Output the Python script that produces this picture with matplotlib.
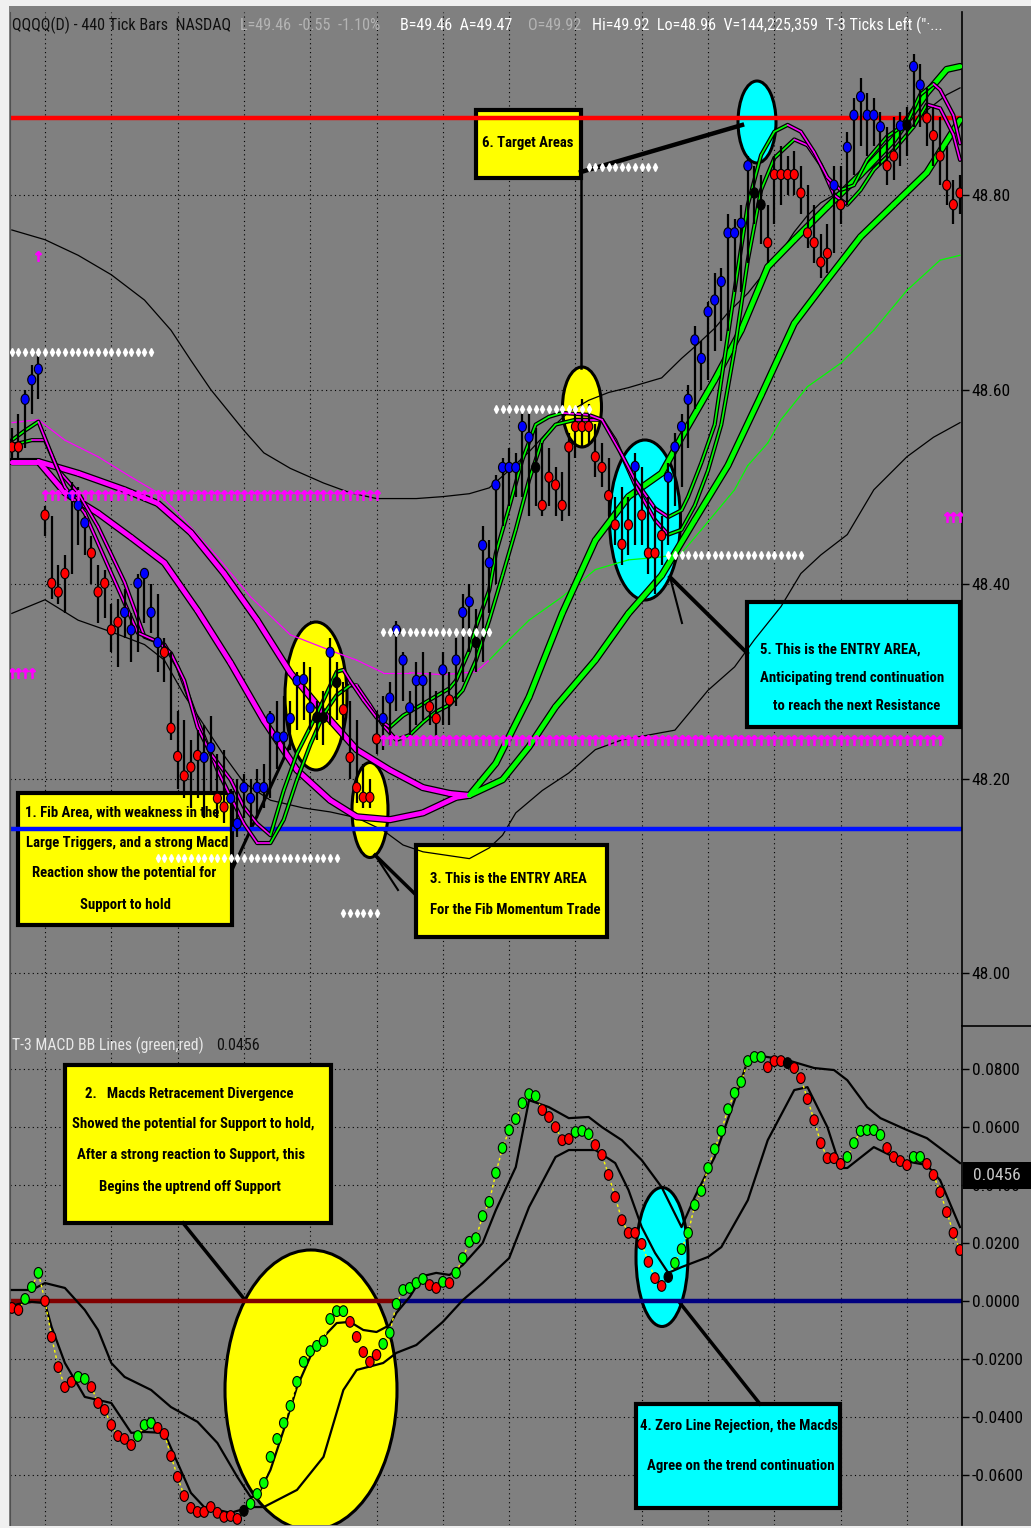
import matplotlib
matplotlib.use("Agg")
import matplotlib.pyplot as plt
import matplotlib.transforms as mtransforms
from matplotlib.patches import Ellipse, Rectangle
from matplotlib.collections import LineCollection
from matplotlib.lines import Line2D
from matplotlib.path import Path
from matplotlib import font_manager
import numpy as np

# narrow font, like the trading platform
have = {f.name for f in font_manager.fontManager.ttflist}
narrow = 'DejaVu Sans'
for nm in ['Liberation Sans Narrow', 'Arial Narrow', 'Roboto Condensed', 'Open Sans Condensed', 'DejaVu Sans Condensed']:
    if nm in have:
        narrow = nm
        break
plt.rcParams['font.family'] = [narrow, 'DejaVu Sans']

# ---------------- price bars (bar 5 .. 148) ----------------
closes = [48.541, 48.541, 48.590, 48.610, 48.621, 48.471, 48.401, 48.392, 48.411, 48.492,
          48.481, 48.463, 48.432, 48.392, 48.401, 48.353, 48.361, 48.371, 48.353, 48.401,
          48.411, 48.371, 48.340, 48.330, 48.252, 48.223, 48.203, 48.212, 48.224, 48.222,
          48.232, 48.180, 48.171, 48.180, 48.154, 48.191, 48.180, 48.191, 48.191, 48.262,
          48.243, 48.243, 48.262, 48.301, 48.302, 48.273, 48.263, 48.263, 48.330, 48.299,
          48.271, 48.222, 48.191, 48.181, 48.181, 48.241, 48.262, 48.283, 48.353, 48.322,
          48.273, 48.301, 48.301, 48.274, 48.262, 48.312, 48.281, 48.322, 48.371, 48.382,
          48.340, 48.440, 48.422, 48.502, 48.520, 48.520, 48.520, 48.562, 48.551, 48.520,
          48.481, 48.510, 48.502, 48.481, 48.541, 48.562, 48.562, 48.562, 48.531, 48.520,
          48.491, 48.461, 48.441, 48.461, 48.521, 48.471, 48.432, 48.432, 48.450, 48.510,
          48.541, 48.562, 48.590, 48.651, 48.632, 48.680, 48.692, 48.711, 48.761, 48.761,
          48.771, 48.830, 48.802, 48.790, 48.751, 48.821, 48.821, 48.821, 48.821, 48.802,
          48.761, 48.751, 48.731, 48.740, 48.810, 48.790, 48.849, 48.882, 48.901, 48.882,
          48.882, 48.870, 48.830, 48.840, 48.871, 48.872, 48.932, 48.913, 48.879, 48.861,
          48.840, 48.810, 48.790, 48.802]
highs = [48.560, 48.575, 48.600, 48.625, 48.635, 48.480, 48.470, 48.420, 48.430, 48.505,
         48.500, 48.470, 48.450, 48.420, 48.415, 48.380, 48.385, 48.395, 48.370, 48.410,
         48.415, 48.400, 48.390, 48.345, 48.330, 48.270, 48.260, 48.240, 48.250, 48.255,
         48.265, 48.225, 48.230, 48.190, 48.200, 48.205, 48.200, 48.210, 48.215, 48.270,
         48.280, 48.285, 48.280, 48.310, 48.320, 48.315, 48.280, 48.290, 48.345, 48.320,
         48.300, 48.280, 48.260, 48.215, 48.200, 48.270, 48.285, 48.300, 48.362, 48.330,
         48.290, 48.320, 48.330, 48.310, 48.290, 48.330, 48.310, 48.345, 48.390, 48.400,
         48.375, 48.460, 48.445, 48.512, 48.530, 48.540, 48.535, 48.575, 48.575, 48.560,
         48.545, 48.540, 48.520, 48.515, 48.555, 48.580, 48.590, 48.585, 48.565, 48.545,
         48.530, 48.490, 48.500, 48.490, 48.535, 48.520, 48.490, 48.480, 48.470, 48.525,
         48.555, 48.575, 48.605, 48.665, 48.650, 48.690, 48.720, 48.725, 48.780, 48.775,
         48.790, 48.840, 48.830, 48.820, 48.790, 48.840, 48.850, 48.840, 48.845, 48.830,
         48.810, 48.790, 48.760, 48.770, 48.830, 48.830, 48.865, 48.900, 48.920, 48.905,
         48.900, 48.885, 48.870, 48.880, 48.885, 48.890, 48.945, 48.935, 48.910, 48.890,
         48.880, 48.850, 48.815, 48.820]
lows = [48.530, 48.530, 48.540, 48.575, 48.590, 48.450, 48.385, 48.380, 48.370, 48.410,
        48.440, 48.430, 48.400, 48.360, 48.365, 48.330, 48.315, 48.345, 48.320, 48.330,
        48.360, 48.350, 48.310, 48.300, 48.240, 48.190, 48.180, 48.170, 48.180, 48.160,
        48.185, 48.160, 48.155, 48.145, 48.140, 48.160, 48.150, 48.160, 48.170, 48.180,
        48.210, 48.220, 48.230, 48.250, 48.260, 48.250, 48.240, 48.235, 48.255, 48.260,
        48.240, 48.200, 48.175, 48.170, 48.170, 48.225, 48.230, 48.235, 48.270, 48.280,
        48.245, 48.255, 48.260, 48.255, 48.240, 48.255, 48.255, 48.275, 48.300, 48.330,
        48.310, 48.320, 48.370, 48.400, 48.460, 48.480, 48.490, 48.490, 48.470, 48.480,
        48.470, 48.480, 48.470, 48.465, 48.470, 48.530, 48.540, 48.545, 48.510, 48.500,
        48.470, 48.440, 48.420, 48.430, 48.440, 48.440, 48.410, 48.390, 48.420, 48.440,
        48.480, 48.500, 48.540, 48.580, 48.600, 48.610, 48.640, 48.650, 48.660, 48.700,
        48.700, 48.730, 48.770, 48.750, 48.730, 48.770, 48.790, 48.800, 48.800, 48.780,
        48.745, 48.730, 48.715, 48.720, 48.740, 48.770, 48.790, 48.820, 48.850, 48.840,
        48.850, 48.830, 48.810, 48.815, 48.830, 48.840, 48.870, 48.870, 48.850, 48.830,
        48.810, 48.790, 48.770, 48.780]
bar_kind = ("rrbbbrrrrb" "bbrrrrrbbb" "bbbrrrrrrb" "brrbbbbbbb" "bbbbbbkkbk"
            "rrrrrrbbbb" "bbbrrbrbbb" "kbbbbbbbbk" "rrrrrrrrrr" "rrrrbrrrrb"
            "bbbbbbbbbb" "bbkkrrrrrr" "rrrrbrbbbb" "bbrrbkbbrr" "rrrr")

# ---------------- overlays on price ----------------
bb_up_x = [5, 10, 15, 20, 25, 29, 32, 35, 40, 43, 47, 52, 56, 60, 66, 70, 74, 77, 80, 83, 86, 89,
           92, 95, 98, 101, 103, 106, 108, 111, 113, 116, 118, 121, 123, 125, 127, 131, 134, 138,
           141, 143, 146, 148]
bb_up = [48.764, 48.754, 48.738, 48.718, 48.692, 48.661, 48.630, 48.600, 48.558, 48.535,
         48.519, 48.504, 48.494, 48.488, 48.488, 48.490, 48.493, 48.499, 48.517, 48.536,
         48.558, 48.577, 48.589, 48.597, 48.602, 48.608, 48.612, 48.632, 48.644, 48.663,
         48.679, 48.699, 48.716, 48.741, 48.762, 48.779, 48.792, 48.808, 48.824, 48.846,
         48.869, 48.887, 48.903, 48.910]
bb_dn_x = [5, 10, 15, 20, 25, 28, 31, 34, 37, 40, 44, 49, 53, 57, 61, 64, 67, 71, 74, 77, 79, 81,
           85, 89, 93, 97, 101, 105, 110, 114, 117, 121, 124, 127, 131, 135, 140, 144, 148]
bb_dn = [48.370, 48.384, 48.363, 48.351, 48.338, 48.322, 48.286, 48.255, 48.224, 48.196,
         48.178, 48.170, 48.166, 48.160, 48.147, 48.132, 48.125, 48.121, 48.118, 48.129,
         48.142, 48.165, 48.188, 48.206, 48.230, 48.240, 48.245, 48.250, 48.291, 48.315,
         48.343, 48.377, 48.411, 48.430, 48.451, 48.497, 48.531, 48.551, 48.566]
mid_x = [5, 9, 13, 18, 23, 27, 31, 36, 41, 47, 53, 57, 61, 65, 70, 75, 77, 80, 83, 88, 93, 98,
         103, 106, 109, 114, 116, 119, 121, 125, 130, 135, 140, 145, 148]
mid = [48.566, 48.569, 48.548, 48.531, 48.510, 48.494, 48.466, 48.428, 48.387, 48.348,
       48.332, 48.322, 48.309, 48.309, 48.307, 48.310, 48.322, 48.343, 48.363, 48.387,
       48.415, 48.425, 48.428, 48.432, 48.456, 48.497, 48.522, 48.545, 48.569, 48.603,
       48.627, 48.661, 48.702, 48.733, 48.738]
slow_a_x = [5, 9, 15, 22, 27, 32, 37, 42, 47, 52, 57, 62, 67, 71, 74, 78, 83, 88, 93, 98, 103,
            106, 111, 115, 119, 123, 128, 133, 138, 143, 146, 148]
slow_a = [48.526, 48.526, 48.514, 48.497, 48.483, 48.453, 48.411, 48.363, 48.309, 48.268,
          48.230, 48.209, 48.191, 48.185, 48.183, 48.216, 48.284, 48.370, 48.445, 48.490,
          48.514, 48.551, 48.610, 48.661, 48.726, 48.754, 48.788, 48.821, 48.857, 48.905,
          48.929, 48.932]
slow_b_x = [5, 9, 13, 18, 23, 28, 33, 38, 43, 48, 53, 57, 62, 67, 72, 74, 79, 83, 87, 93, 98,
            103, 108, 113, 118, 123, 128, 133, 138, 143, 148]
slow_b = [48.526, 48.526, 48.494, 48.473, 48.448, 48.422, 48.373, 48.319, 48.260, 48.209,
          48.178, 48.161, 48.158, 48.165, 48.181, 48.183, 48.199, 48.233, 48.274, 48.322,
          48.370, 48.409, 48.466, 48.522, 48.594, 48.668, 48.713, 48.757, 48.790, 48.823,
          48.877]
fast1_x = [5, 7, 9, 11, 13, 16, 20, 24, 27, 29, 31, 33, 35, 38, 40, 42, 44, 46, 48, 50, 52, 54,
           55, 56, 58, 60, 62, 64, 66, 68, 71, 72, 74, 75, 77, 78, 80, 82, 84, 86, 88, 92, 94, 97,
           99, 102, 104, 106, 107, 109, 111, 112, 114, 116, 118, 120, 122, 124, 126, 128, 130,
           132, 134, 137, 140, 142, 144, 145, 147, 148]
fast1 = [48.548, 48.558, 48.567, 48.533, 48.500, 48.473, 48.411, 48.350, 48.341, 48.329,
         48.301, 48.253, 48.226, 48.199, 48.171, 48.154, 48.142, 48.188, 48.226, 48.253,
         48.281, 48.310, 48.312, 48.301, 48.281, 48.263, 48.253, 48.265, 48.273, 48.281,
         48.293, 48.301, 48.332, 48.356, 48.394, 48.432, 48.479, 48.528, 48.564, 48.572,
         48.576, 48.574, 48.569, 48.533, 48.507, 48.478, 48.469, 48.476, 48.490, 48.525,
         48.564, 48.610, 48.702, 48.790, 48.841, 48.865, 48.872, 48.865, 48.844, 48.818,
         48.805, 48.810, 48.836, 48.860, 48.874, 48.903, 48.914, 48.908, 48.882, 48.853]
fast2_x = [5, 8, 10, 12, 15, 18, 22, 25, 28, 30, 33, 36, 40, 42, 44, 46, 48, 50, 52, 54, 56, 57,
           59, 61, 63, 65, 67, 69, 71, 73, 75, 77, 79, 81, 83, 85, 87, 90, 94, 96, 99, 102, 104,
           106, 108, 110, 112, 114, 116, 118, 120, 123, 125, 127, 129, 131, 133, 135, 138, 141,
           143, 145, 147, 148]
fast2 = [48.543, 48.548, 48.548, 48.517, 48.494, 48.459, 48.402, 48.346, 48.338, 48.315,
         48.260, 48.209, 48.154, 48.134, 48.134, 48.158, 48.199, 48.235, 48.266, 48.286,
         48.296, 48.296, 48.276, 48.255, 48.240, 48.245, 48.258, 48.269, 48.276, 48.291,
         48.322, 48.363, 48.409, 48.456, 48.507, 48.548, 48.564, 48.569, 48.569, 48.548,
         48.502, 48.466, 48.451, 48.456, 48.481, 48.517, 48.564, 48.641, 48.733, 48.805,
         48.838, 48.857, 48.851, 48.831, 48.800, 48.790, 48.805, 48.826, 48.846, 48.870,
         48.893, 48.889, 48.862, 48.836]

resistance = 48.879
support = 48.148
# rows of level markers: level, first bar, last bar
white_lvls = [48.639, 48.829, 48.580, 48.351, 48.430, 48.119, 48.062]
white_from = [5, 92, 78, 61, 104, 27, 55]
white_to = [26, 102, 92, 77, 124, 54, 60]
mag_lvls = [48.492, 48.309, 48.240, 48.469, 48.737]
mag_from = [10, 5, 61, 146, 9]
mag_to = [60, 8, 145, 148, 9]

# ---------------- T-3 MACD ----------------
macd = [-0.0024, -0.0031, 0.0007, 0.0048, 0.0097, 0.0000, -0.0124, -0.0228, -0.0297, -0.0279,
        -0.0262, -0.0269, -0.0297, -0.0352, -0.0376, -0.0428, -0.0466, -0.0476, -0.0497, -0.0466,
        -0.0428, -0.0421, -0.0438, -0.0459, -0.0535, -0.0607, -0.0673, -0.0714, -0.0728, -0.0728,
        -0.0711, -0.0731, -0.0745, -0.0742, -0.0752, -0.0724, -0.0700, -0.0666, -0.0628, -0.0538,
        -0.0476, -0.0421, -0.0362, -0.0279, -0.0210, -0.0173, -0.0155, -0.0138, -0.0062, -0.0035,
        -0.0035, -0.0072, -0.0124, -0.0176, -0.0210, -0.0186, -0.0148, -0.0110, -0.0010, 0.0038,
        0.0045, 0.0062, 0.0076, 0.0055, 0.0045, 0.0066, 0.0062, 0.0097, 0.0148, 0.0204,
        0.0217, 0.0293, 0.0342, 0.0442, 0.0528, 0.0590, 0.0628, 0.0683, 0.0714, 0.0707,
        0.0659, 0.0635, 0.0600, 0.0555, 0.0559, 0.0583, 0.0587, 0.0576, 0.0538, 0.0504,
        0.0435, 0.0359, 0.0279, 0.0235, 0.0235, 0.0197, 0.0135, 0.0079, 0.0052, 0.0083,
        0.0131, 0.0179, 0.0235, 0.0331, 0.0380, 0.0459, 0.0524, 0.0587, 0.0662, 0.0718,
        0.0756, 0.0828, 0.0842, 0.0842, 0.0807, 0.0828, 0.0828, 0.0821, 0.0804, 0.0769,
        0.0697, 0.0624, 0.0545, 0.0493, 0.0493, 0.0473, 0.0497, 0.0545, 0.0587, 0.0590,
        0.0590, 0.0573, 0.0528, 0.0497, 0.0483, 0.0469, 0.0497, 0.0497, 0.0473, 0.0435,
        0.0376, 0.0307, 0.0235, 0.0176]
macd_kind = ("rrgggrrrrr" "ggrrrrrrrg" "ggrrrrrrrr" "rrrrrkgggg" "gggggggggg"
             "grrrrrgggg" "gggrrgrggg" "gggggggggg" "rrrrrgggrr" "rrrrrrrrrk"
             "gggggggggg" "ggggrrrkrr" "rrrrrrgggg" "ggrrrrggrr" "rrrr")
bbm_up_x = [5, 8, 10, 13, 16, 18, 20, 22, 26, 29, 33, 36, 39, 41, 42, 44, 46, 48, 50, 52, 54, 56,
            58, 60, 62, 63, 65, 67, 69, 71, 73, 76, 78, 81, 83, 86, 89, 92, 94, 97, 100, 103, 106,
            108, 111, 114, 116, 117, 122, 126, 129, 131, 134, 136, 140, 143, 148]
bbm_up = [0.0038, 0.0038, 0.0062, 0.0045, -0.0031, -0.0100, -0.0214, -0.0262, -0.0307, -0.0366,
          -0.0417, -0.0490, -0.0607, -0.0676, -0.0676, -0.0583, -0.0445, -0.0297, -0.0193, -0.0124,
          -0.0076, -0.0072, -0.0100, -0.0107, -0.0083, -0.0041, 0.0014, 0.0086, 0.0097, 0.0090,
          0.0124, 0.0200, 0.0314, 0.0462, 0.0693, 0.0669, 0.0631, 0.0635, 0.0600, 0.0555,
          0.0486, 0.0393, 0.0255, 0.0359, 0.0497, 0.0693, 0.0831, 0.0849, 0.0831, 0.0804,
          0.0797, 0.0762, 0.0669, 0.0631, 0.0590, 0.0562, 0.0476]
bbm_dn_x = [5, 8, 10, 11, 13, 16, 20, 23, 25, 28, 30, 32, 34, 38, 41, 43, 48, 52, 55, 57, 61, 63,
            66, 70, 73, 76, 80, 83, 87, 89, 93, 96, 98, 100, 102, 104, 106, 110, 112, 116, 119,
            123, 125, 128, 130, 131, 135, 139, 143, 145, 148]
bbm_dn = [-0.0014, -0.0003, -0.0007, -0.0090, -0.0214, -0.0331, -0.0352, -0.0455, -0.0452, -0.0455,
          -0.0559, -0.0662, -0.0711, -0.0731, -0.0711, -0.0711, -0.0652, -0.0538, -0.0307, -0.0238,
          -0.0214, -0.0179, -0.0152, -0.0072, 0.0003, 0.0062, 0.0148, 0.0324, 0.0497, 0.0521,
          0.0521, 0.0476, 0.0383, 0.0255, 0.0166, 0.0097, 0.0117, 0.0152, 0.0186, 0.0348,
          0.0555, 0.0728, 0.0738, 0.0600, 0.0459, 0.0459, 0.0531, 0.0486, 0.0469, 0.0417, 0.0255]
zero_turn = 63.2  # zero line switches from dark red to navy here

bars = np.arange(5, 5 + len(closes))

# ---------------- figure ----------------
W, H = 1031, 1528
GRAY = '#808080'
fig = plt.figure(figsize=(W / 100, H / 100), dpi=100, facecolor=GRAY)
px = mtransforms.Affine2D().scale(1, -1).translate(0, H)   # pixel coords, origin top-left


def frect(x0, y0, x1, y1):
    return [x0 / W, 1 - y1 / H, (x1 - x0) / W, (y1 - y0) / H]


ax = fig.add_axes(frect(10, 12, 962, 1026), facecolor=GRAY)
ax2 = fig.add_axes(frect(10, 1026, 962, 1525), facecolor=GRAY)
for a in (ax, ax2):
    a.set_xlim(4.72, 148.3)
    a.set_axisbelow(True)
    a.set_xticks(range(10, 150, 10))
    a.tick_params(axis='x', length=0, labelbottom=False)
    a.yaxis.tick_right()
    a.tick_params(axis='y', direction='out', length=5, width=1, pad=2, labelsize=12.5,
                  colors='black')
    a.grid(True, color='black', ls=(0, (1, 3)), lw=0.8)
    for s in ('top', 'bottom'):
        a.spines[s].set_visible(False)
    a.spines['left'].set_color('#505050')
    a.spines['right'].set_color('black')
    a.spines['right'].set_linewidth(1.2)
ax.set_ylim(47.946, 48.988)
ax.set_yticks([48.0, 48.2, 48.4, 48.6, 48.8])
ax.set_yticklabels(['48.00', '48.20', '48.40', '48.60', '48.80'])
ax2.set_ylim(-0.0773, 0.0949)
mt = [-0.06, -0.04, -0.02, 0.0, 0.02, 0.04, 0.06, 0.08]
ax2.set_yticks(mt)
ax2.set_yticklabels(['%.4f' % v if v >= 0 else '-%.4f' % -v for v in mt])

# light frame round the window
for r in [(0, 0, W, 6), (0, 0, 9, H), (0, 1526, W, 2)]:
    fig.patches.append(Rectangle((r[0], r[1]), r[2], r[3], transform=px, fc='#f0f0f0', ec='none'))
fig.add_artist(Line2D([962, W], [1025.5, 1025.5], transform=px, color='black', lw=1.2))


# ---------------- annotation layer (under the data) ----------------
def box(a, x0, y0, x1, y1, col):
    a.add_patch(Rectangle((x0, y0), x1 - x0, y1 - y0, transform=px, fc=col, ec='black',
                          lw=3, zorder=1))


def oval(a, cx, cy, w, h, col):
    a.add_patch(Ellipse((cx, cy), w, h, transform=px, fc=col, ec='black', lw=2.2, zorder=1))


def link(a, x0, y0, x1, y1, lw):
    a.add_line(Line2D([x0, x1], [y0, y1], transform=px, color='black', lw=lw, zorder=1.2))


def note(a, x, y, s, ha='center'):
    a.text(x, y, s, transform=px, ha=ha, va='center', fontsize=10.6, fontweight='bold',
           color='black', zorder=1.5)


for e in [(757, 122, 38, 82, 'cyan'), (582, 407, 39, 80, 'yellow'), (645, 520, 71, 160, 'cyan'),
          (316, 696, 62, 148, 'yellow'), (370, 810, 36, 95, 'yellow')]:
    oval(ax, *e)
for e in [(311, 1390, 172, 280, 'yellow'), (662, 1257, 52, 139, 'cyan')]:
    oval(ax2, *e)

for c in [(581, 172, 742, 125, 3.2), (581, 178, 581, 368, 1.8), (670, 577, 747, 653, 2.8),
          (670, 577, 682, 623, 1.5), (375, 855, 414, 893, 2.5), (375, 855, 398, 890, 1.5),
          (232, 870, 290, 745, 2.2)]:
    link(ax, *c)
for c in [(183, 1223, 245, 1300, 2.5), (680, 1303, 760, 1404, 2.5)]:
    link(ax2, *c)

box(ax, 476, 110, 581, 178, 'yellow')
note(ax, 528, 143, '6. Target Areas')
box(ax, 18, 793, 232, 925, 'yellow')
note(ax, 122, 813, '1. Fib Area, with weakness in the')
note(ax, 127, 843, 'Large Triggers, and a strong Macd')
note(ax, 124, 873, 'Reaction show the potential for')
note(ax, 125, 905, 'Support to hold')
box(ax, 416, 845, 607, 937, 'yellow')
note(ax, 430, 879, '3. This is the ENTRY AREA', ha='left')
note(ax, 430, 910, 'For the Fib Momentum Trade', ha='left')
box(ax, 747, 602, 960, 727, 'cyan')
note(ax, 760, 650, '5. This is the ENTRY AREA,', ha='left')
note(ax, 760, 678, 'Anticipating trend continuation', ha='left')
note(ax, 773, 706, 'to reach the next Resistance', ha='left')

box(ax2, 65, 1065, 331, 1223, 'yellow')
note(ax2, 189, 1094, '2.   Macds Retracement Divergence')
note(ax2, 193, 1124, 'Showed the potential for Support to hold,')
note(ax2, 191, 1155, 'After a strong reaction to Support, this')
note(ax2, 190, 1187, 'Begins the uptrend off Support')
box(ax2, 636, 1404, 840, 1508, 'cyan')
note(ax2, 739, 1426, '4. Zero Line Rejection, the Macds')
note(ax2, 741, 1466, 'Agree on the trend continuation')


# ---------------- price panel ----------------
def ribbon(a, xs, ys, width, z, turn=None, edge=True):
    xs = np.asarray(xs, float)
    ys = np.asarray(ys, float)
    if edge:
        a.plot(xs, ys, color='black', lw=width + 1.8, zorder=z, solid_capstyle='round',
               solid_joinstyle='round')
    segs = np.stack([np.column_stack([xs[:-1], ys[:-1]]), np.column_stack([xs[1:], ys[1:]])], axis=1)
    if turn is None:
        cols = ['#00ff00' if b > a_ else '#ff00ff' for a_, b in zip(ys[:-1], ys[1:])]
    else:
        cols = ['#ff00ff' if x0 < turn else '#00ff00' for x0 in xs[:-1]]
    a.add_collection(LineCollection(segs, colors=cols, linewidths=width, zorder=z + 0.01,
                                    capstyle='round'))


ax.plot(bb_up_x, bb_up, color='black', lw=0.9, zorder=2)
ax.plot(bb_dn_x, bb_dn, color='black', lw=0.9, zorder=2)
ribbon(ax, mid_x, mid, 0.9, 2, turn=76, edge=False)

ax.axhline(resistance, color='#ff0000', lw=3.2, zorder=2.5)
ax.axhline(support, color='#0010ff', lw=3.2, zorder=2.5)

ribbon(ax, slow_a_x, slow_a, 3.4, 3, turn=74)
ribbon(ax, slow_b_x, slow_b, 3.4, 3, turn=74)
ribbon(ax, fast2_x, fast2, 1.2, 3.5)
ribbon(ax, fast1_x, fast1, 1.2, 3.6)

ax.vlines(bars, lows, highs, color='black', lw=1.6, zorder=4)
uc = Path.unit_circle()
dot = Path(uc.vertices * [0.78, 1.0], uc.codes)
fc = {'r': '#ff0000', 'b': '#0000ff', 'k': '#000000', 'g': '#00ff00'}
ax.scatter(bars, closes, s=55, marker=dot, c=[fc[k] for k in bar_kind], edgecolors='black',
           linewidths=0.8, zorder=5)

for lv, a0, a1 in zip(white_lvls, white_from, white_to):
    xs = np.arange(a0, a1 + 1)
    ax.plot(xs, [lv] * len(xs), ls='none', marker='d', ms=3.6, color='white', mec='white', zorder=5)
for lv, a0, a1 in zip(mag_lvls, mag_from, mag_to):
    xs = np.arange(a0, a1 + 1)
    ax.plot(xs, [lv] * len(xs), ls='none', marker=r'$\uparrow$', ms=7, color='#ff00ff', zorder=5)

# ---------------- macd panel ----------------
ax2.hlines(0, 4.72, zero_turn, color='#800000', lw=3.2, zorder=2)
ax2.hlines(0, zero_turn, 148.3, color='#000080', lw=3.2, zorder=2)
ax2.plot(bbm_up_x, bbm_up, color='black', lw=1.6, zorder=3)
ax2.plot(bbm_dn_x, bbm_dn, color='black', lw=1.6, zorder=3)
ax2.plot(bars, macd, color='#ffff00', lw=1.0, dashes=(2, 2), zorder=3.5)
ax2.scatter(bars, macd, s=60, marker=dot, c=[fc[k] for k in macd_kind], edgecolors='black',
            linewidths=0.8, zorder=5)

# ---------------- header texts ----------------
hdr = [("QQQQ(D) - 440 Tick Bars  NASDAQ", 12, '#101010'),
       ("L=49.46  -0.55  -1.10%", 240, '#b4b4b4'),
       ("B=49.46  A=49.47", 400, 'white'),
       ("O=49.92", 528, '#b4b4b4'),
       ('Hi=49.92  Lo=48.96  V=144,225,359  T-3 Ticks Left ("\u00b7...', 592, 'white')]
for s, x, col in hdr:
    fig.text(x, 25, s, transform=px, ha='left', va='center', fontsize=11.6, color=col)
fig.text(12, 1045, 'T-3 MACD BB Lines (green,red)', transform=px, ha='left', va='center',
         fontsize=11.3, color='#e8e8e8')
fig.text(216, 1045, '0.0456', transform=px, ha='left', va='center', fontsize=11.6, color='#101010')

fig.patches.append(Rectangle((963, 1162), 68, 27, transform=px, fc='black', ec='none'))
fig.text(997, 1175, '0.0456', transform=px, ha='center', va='center', fontsize=12.5,
         color='#c8c8c8', zorder=5)

fig.savefig('out.png', dpi=100, facecolor=GRAY)
